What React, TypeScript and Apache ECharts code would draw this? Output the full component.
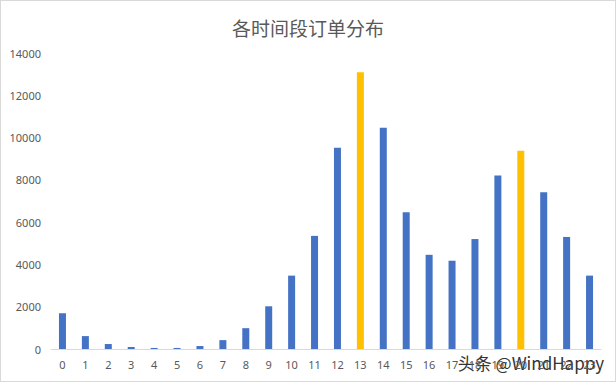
import React, { useEffect, useRef } from "react";
import * as echarts from "echarts";

const titleText = "各时间段订单分布";
const hours = ["0","1","2","3","4","5","6","7","8","9","10","11","12","13","14","15","16","17","18","19","20","21","22","23"];
const orders = [1690, 610, 235, 95, 50, 50, 140, 420, 985, 2020, 3470, 5350, 9520, 13090, 10470, 6470, 4455, 4175, 5200, 8210, 9380, 7410, 5300, 3470];
const highlighted = ["13", "20"];
const watermark = "头条 @WindHappy";

const BLUE = "#4472C4";
const GOLD = "#FFC000";

export default function App() {
  const ref = useRef<HTMLDivElement>(null);
  useEffect(() => {
    if (!ref.current) return;
    const chart = echarts.init(ref.current, null, { renderer: "svg" });
    chart.setOption({
      animation: false,
      backgroundColor: "#fff",
      title: {
        text: titleText,
        left: "center",
        top: 12,
        textStyle: { fontSize: 19, fontWeight: "normal", color: "#595959", fontFamily: "Noto Sans CJK SC" },
      },
      grid: { left: 50, right: 14, top: 52, bottom: 32, containLabel: false },
      xAxis: {
        type: "category",
        data: hours,
        axisLine: { lineStyle: { color: "#d9d9d9" } },
        axisTick: { show: false },
        axisLabel: { color: "#595959", fontSize: 11, margin: 10, fontFamily: "Noto Sans", interval: 0 },
      },
      yAxis: {
        type: "value",
        min: 0,
        max: 14000,
        interval: 2000,
        splitLine: { show: false },
        axisLine: { show: false },
        axisTick: { show: false },
        axisLabel: {
          color: "#595959",
          fontSize: 11,
          margin: 10,
          fontFamily: "Noto Sans",
          formatter: (v: number) => String(v),
        },
      },
      series: [
        {
          type: "bar",
          barWidth: 7,
          data: orders.map((v, i) => ({
            value: v,
            itemStyle: { color: highlighted.includes(hours[i]) ? GOLD : BLUE },
          })),
        },
      ],
      graphic: [
        {
          type: "text",
          right: 10,
          top: 352,
          style: {
            text: watermark,
            fontSize: 17,
            fill: "#333",
            stroke: "#fff",
            lineWidth: 2,
            fontFamily: "Noto Sans CJK SC",
          },
        },
      ],
    });
    return () => chart.dispose();
  }, []);
  return (
    <div
      style={{
        position: "fixed",
        left: 0,
        top: 0,
        width: 616,
        height: 382,
        boxSizing: "border-box",
        border: "1px solid #d9d9d9",
        background: "#fff",
      }}
    >
      <div ref={ref} style={{ width: 614, height: 380 }} />
    </div>
  );
}
